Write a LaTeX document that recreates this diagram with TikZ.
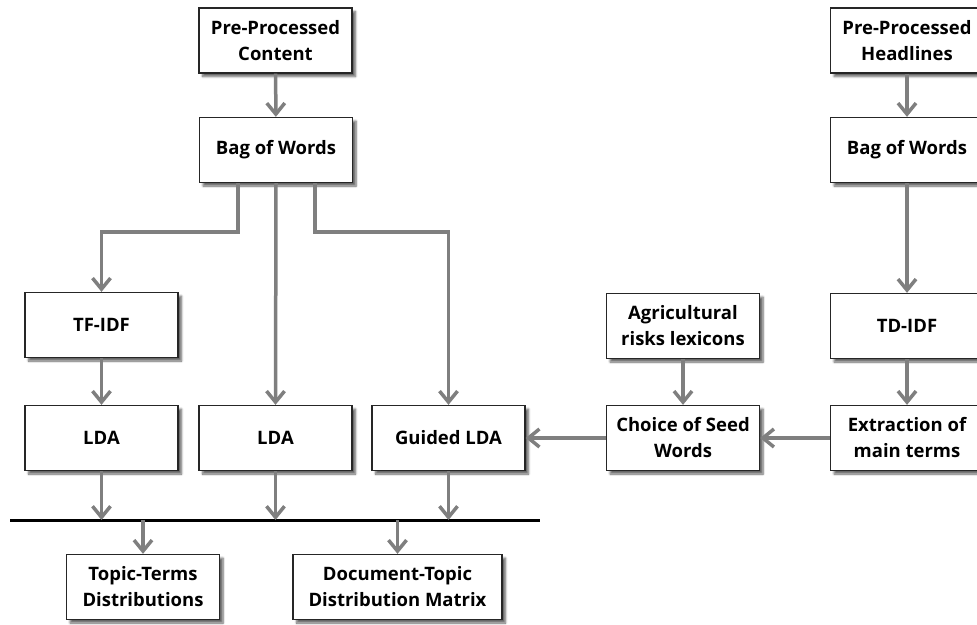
\documentclass[tikz,border=0pt]{standalone}
\usepackage{fontspec}
\setmainfont{Open Sans}
\usetikzlibrary{arrows.meta,shadows.blur}
\definecolor{arrgray}{HTML}{7F7F7F}
\begin{document}
\begin{tikzpicture}[x=1pt,y=-1pt,
 box/.style={draw=black!85, line width=1.3pt, fill=white,
   blur shadow={shadow xshift=3.5pt, shadow yshift=-3.5pt, shadow blur steps=6, shadow opacity=60},
   font=\fontsize{18.5}{26}\selectfont\bfseries, align=center, inner sep=0pt,
   minimum width=153pt, minimum height=65pt},
 arr/.style={draw=arrgray, line width=3.5pt, -{Straight Barb[length=11pt,width=18pt]}},
 bus/.style={draw=black, line width=3pt},
]
\useasboundingbox (0,0) rectangle (977,624);
% left column
\node[box] (ppc) at (275.5,40.5) {Pre-Processed\\Content};
\node[box] (bow1) at (276,150) {Bag of Words};
\node[box] (tfidf) at (101.5,325) {TF-IDF};
\node[box] (lda1) at (101.5,438) {LDA};
\node[box] (lda2) at (275.5,438) {LDA};
\node[box] (glda) at (448.5,438) {Guided LDA};
\node[box] (tt) at (143,587) {Topic-Terms\\Distributions};
\node[box, minimum width=209pt] (dtm) at (397.5,587) {Document-Topic\\Distribution Matrix};
% right column
\node[box] (pph) at (907,40.5) {Pre-Processed\\Headlines};
\node[box] (bow2) at (907,150) {Bag of Words};
\node[box] (tdidf) at (907,326) {TD-IDF};
\node[box] (ext) at (907,438) {Extraction of\\main terms};
\node[box] (agr) at (683,326) {Agricultural\\risks lexicons};
\node[box] (cho) at (683,438) {Choice of Seed\\Words};
% bus
\coordinate (busL) at (10,520);
\coordinate (busR) at (540,520);
\draw[bus] (busL) -- (busR);
% arrows
\draw[arr] (ppc) -- (bow1);
\draw[arr] ([xshift=-38pt]bow1.south) -- ++(0,49) -| (tfidf.north);
\draw[arr] (bow1.south) -- (lda2.north);
\draw[arr] ([xshift=39pt]bow1.south) -- ++(0,49) -| (glda.north);
\draw[arr] (tfidf) -- (lda1);
\draw[arr] (lda1.south) -- (lda1.south |- busL);
\draw[arr] (lda2.south) -- (lda2.south |- busL);
\draw[arr] (glda.south) -- (glda.south |- busL);
\draw[arr] (tt.north |- busL) -- (tt.north);
\draw[arr] (dtm.north |- busL) -- (dtm.north);
\draw[arr] (pph) -- (bow2);
\draw[arr] (bow2) -- (tdidf);
\draw[arr] (tdidf) -- (ext);
\draw[arr] (agr) -- (cho);
\draw[arr] (ext) -- (cho);
\draw[arr] (cho) -- (glda);
\end{tikzpicture}
\end{document}
